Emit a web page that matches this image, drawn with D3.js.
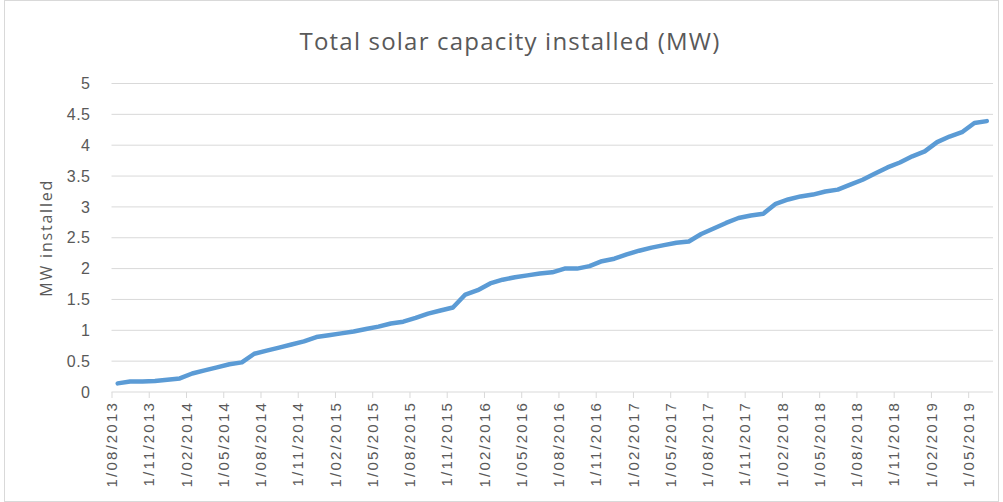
<!DOCTYPE html>
<html>
<head>
<meta charset="utf-8">
<script src="https://cdn.jsdelivr.net/npm/d3@7"></script>
<style>
  body { margin: 0; background: #fff; }
  svg { display: block; font-family: "Open Sans", "Liberation Sans", sans-serif; }
</style>
</head>
<body>
<svg id="chart"></svg>
<script>
// monthly readings, first of each month from 1/08/2013 to 1/06/2019
const months = [
  "1/08/2013","1/09/2013","1/10/2013","1/11/2013","1/12/2013",
  "1/01/2014","1/02/2014","1/03/2014","1/04/2014","1/05/2014","1/06/2014","1/07/2014",
  "1/08/2014","1/09/2014","1/10/2014","1/11/2014","1/12/2014",
  "1/01/2015","1/02/2015","1/03/2015","1/04/2015","1/05/2015","1/06/2015","1/07/2015",
  "1/08/2015","1/09/2015","1/10/2015","1/11/2015","1/12/2015",
  "1/01/2016","1/02/2016","1/03/2016","1/04/2016","1/05/2016","1/06/2016","1/07/2016",
  "1/08/2016","1/09/2016","1/10/2016","1/11/2016","1/12/2016",
  "1/01/2017","1/02/2017","1/03/2017","1/04/2017","1/05/2017","1/06/2017","1/07/2017",
  "1/08/2017","1/09/2017","1/10/2017","1/11/2017","1/12/2017",
  "1/01/2018","1/02/2018","1/03/2018","1/04/2018","1/05/2018","1/06/2018","1/07/2018",
  "1/08/2018","1/09/2018","1/10/2018","1/11/2018","1/12/2018",
  "1/01/2019","1/02/2019","1/03/2019","1/04/2019","1/05/2019","1/06/2019"
];

const mwInstalled = [
  0.14, 0.17, 0.17, 0.18, 0.20,
  0.22, 0.30, 0.35, 0.40, 0.45, 0.48, 0.62,
  0.67, 0.72, 0.77, 0.82, 0.89,
  0.92, 0.95, 0.98, 1.02, 1.06, 1.11, 1.14,
  1.20, 1.27, 1.32, 1.37, 1.58,
  1.65, 1.76, 1.82, 1.86, 1.89, 1.92, 1.94,
  2.00, 2.00, 2.04, 2.12, 2.16,
  2.23, 2.29, 2.34, 2.38, 2.42, 2.44, 2.56,
  2.65, 2.74, 2.82, 2.86, 2.89,
  3.05, 3.12, 3.17, 3.20, 3.25, 3.28, 3.36,
  3.44, 3.54, 3.64, 3.72, 3.82,
  3.90, 4.05, 4.14, 4.21, 4.36, 4.39
];

const yTicks = [0, 0.5, 1, 1.5, 2, 2.5, 3, 3.5, 4, 4.5, 5];

const w = 1003;
const h = 502;
const margin = { top: 83.5, right: 10, bottom: 110, left: 111.5 };

const svg = d3.select("#chart").attr("width", w).attr("height", h);

// chart area border
svg.append("rect")
  .attr("x", 4.5).attr("y", 0.5)
  .attr("width", w - 9).attr("height", h - 1)
  .attr("fill", "#fff")
  .attr("stroke", "#d9d9d9");

const x = d3.scaleLinear()
  .domain([0, months.length])
  .range([margin.left, w - margin.right]);

const y = d3.scaleLinear()
  .domain([0, 5])
  .range([h - margin.bottom, margin.top]);

// gridlines
svg.append("g")
  .selectAll("line")
  .data(yTicks.slice(1))
  .enter()
  .append("line")
  .attr("x1", x(0)).attr("x2", x(months.length))
  .attr("y1", d => y(d)).attr("y2", d => y(d))
  .attr("stroke", "#d9d9d9")
  .attr("stroke-width", 1);

// y axis labels
const yAxis = d3.axisLeft(y)
  .tickValues(yTicks)
  .tickSize(0)
  .tickPadding(21)
  .tickFormat(d3.format("~g"));

const gy = svg.append("g")
  .attr("transform", `translate(${margin.left},0)`)
  .call(yAxis);
gy.select(".domain").remove();
gy.selectAll("text")
  .attr("fill", "#595959")
  .style("font-size", "16px")
  .style("letter-spacing", "0.5px");

// x axis: one tick every third month
const tickIdx = d3.range(0, months.length, 3);
const xAxis = d3.axisBottom(x)
  .tickValues(tickIdx)
  .tickSize(6)
  .tickFormat(i => months[i]);

const gx = svg.append("g")
  .attr("transform", `translate(0,${y(0)})`)
  .call(xAxis);
gx.select(".domain")
  .attr("d", `M${x(0)},0H${x(months.length)}`)
  .attr("stroke", "#d9d9d9");
gx.selectAll(".tick line").attr("stroke", "#d9d9d9");
gx.selectAll("text")
  .attr("fill", "#595959")
  .style("font-size", "15px")
  .style("letter-spacing", "2.2px")
  .attr("text-anchor", "end")
  .attr("dy", "0.35em")
  .attr("transform", "translate(0,9) rotate(-90)")
  .attr("x", 0)
  .attr("y", 0);

// the series
const line = d3.line()
  .x((d, i) => x(i + 0.5))
  .y(d => y(d));

svg.append("path")
  .datum(mwInstalled)
  .attr("d", line)
  .attr("fill", "none")
  .attr("stroke", "#5b9bd5")
  .attr("stroke-width", 4.5)
  .attr("stroke-linejoin", "round")
  .attr("stroke-linecap", "round");

// title
svg.append("text")
  .attr("x", 510)
  .attr("y", 50)
  .attr("text-anchor", "middle")
  .attr("fill", "#595959")
  .style("font-size", "24px")
  .style("letter-spacing", "1.2px")
  .text("Total solar capacity installed (MW)");

// y axis title
svg.append("text")
  .attr("transform", `translate(52,${(y(0) + y(5)) / 2}) rotate(-90)`)
  .attr("text-anchor", "middle")
  .attr("fill", "#595959")
  .style("font-size", "16px")
  .style("letter-spacing", "1.8px")
  .text("MW installed");
</script>
</body>
</html>
